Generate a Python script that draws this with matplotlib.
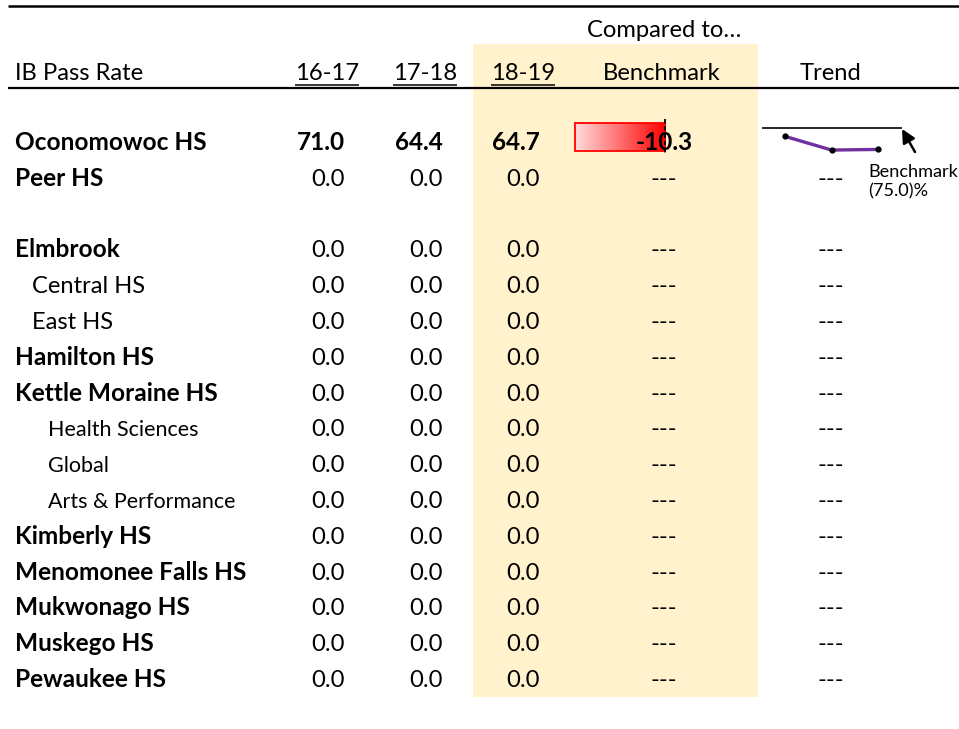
import matplotlib
matplotlib.use("Agg")
import matplotlib.pyplot as plt
import numpy as np
from matplotlib.patches import Rectangle
from matplotlib.colors import LinearSegmentedColormap

# ---------------- data ----------------
title = "IB Pass Rate"
years = ["16-17", "17-18", "18-19"]
schools = ["Oconomowoc HS", "Peer HS", "", "Elmbrook", "Central HS", "East HS",
           "Hamilton HS", "Kettle Moraine HS", "Health Sciences", "Global",
           "Arts & Performance", "Kimberly HS", "Menomonee Falls HS",
           "Mukwonago HS", "Muskego HS", "Pewaukee HS"]
levels = [0, 0, None, 0, 1, 1, 0, 0, 2, 2, 2, 0, 0, 0, 0, 0]
v1617 = [71.0, 0.0, None, 0.0, 0.0, 0.0, 0.0, 0.0, 0.0, 0.0, 0.0, 0.0, 0.0, 0.0, 0.0, 0.0]
v1718 = [64.4, 0.0, None, 0.0, 0.0, 0.0, 0.0, 0.0, 0.0, 0.0, 0.0, 0.0, 0.0, 0.0, 0.0, 0.0]
v1819 = [64.7, 0.0, None, 0.0, 0.0, 0.0, 0.0, 0.0, 0.0, 0.0, 0.0, 0.0, 0.0, 0.0, 0.0, 0.0]
benchmark = 75.0
highlight_row = 0

# ---------------- figure ----------------
W, H = 959, 729
FONT = "Lato"
fig = plt.figure(figsize=(W / 100, H / 100), dpi=100)
ax = fig.add_axes([0, 0, 1, 1])
ax.axis("off")
ax.set_xlim(0, W)
ax.set_ylim(H, 0)
renderer = fig.canvas.get_renderer()


def width_px(s, size, weight="normal"):
    t = ax.text(0, 0, s, fontsize=size, fontweight=weight, family=FONT)
    w = t.get_window_extent(renderer).width
    t.remove()
    return w


fs_reg = 10 * 128 / width_px("IB Pass Rate", 10)
fs_bold = 10 * 203 / width_px("Kettle Moraine HS", 10, "bold")
fs_small = 10 * 150 / width_px("Health Sciences", 10)
fs_tiny = 10 * 90 / width_px("Benchmark", 10)

# highlighted column
ax.add_patch(Rectangle((473, 44), 285, 653, facecolor="#FFF2CC", edgecolor="none", zorder=0))

# rules
ax.plot([8, W], [6, 6], color="black", lw=1.8, solid_capstyle="butt")
ax.plot([8, W], [88, 88], color="black", lw=1.6, solid_capstyle="butt")

# headers
ax.text(664, 37, "Compared to…", ha="center", va="baseline", fontsize=fs_reg, family=FONT)
ax.text(15, 80, title, ha="left", va="baseline", fontsize=fs_reg, family=FONT)
col_centers = [327, 425, 523]
for yr, cx in zip(years, col_centers):
    t = ax.text(cx, 80, yr, ha="center", va="baseline", fontsize=fs_reg, family=FONT)
    w = t.get_window_extent(renderer).width
    ax.plot([cx - w / 2, cx + w / 2], [85, 85], color="black", lw=1.1, solid_capstyle="butt")
ax.text(662, 80, "Benchmark", ha="center", va="baseline", fontsize=fs_reg, family=FONT)
ax.text(830, 80, "Trend", ha="center", va="baseline", fontsize=fs_reg, family=FONT)

# rows
col_right = [345, 443, 540]
bench_x = 664
trend_x = 831
for i, name in enumerate(schools):
    base = 150 + 35.8 * i
    lev = levels[i]
    if lev is None:
        continue
    if lev == 0:
        ax.text(15, base, name, ha="left", va="baseline", fontsize=fs_bold,
                fontweight="bold", family=FONT)
    elif lev == 1:
        ax.text(32, base, name, ha="left", va="baseline", fontsize=fs_reg, family=FONT)
    else:
        ax.text(48, base, name, ha="left", va="baseline", fontsize=fs_small, family=FONT)
    bold = (i == highlight_row)
    for vals, xr in zip([v1617, v1718, v1819], col_right):
        ax.text(xr, base, f"{vals[i]:.1f}", ha="right", va="baseline",
                fontsize=fs_bold if bold else fs_reg,
                fontweight="bold" if bold else "normal", family=FONT)
    if v1819[i] > 0:
        diff = v1819[i] - benchmark
        zero_x = 665
        scale = 8.74
        yc = base - 13
        bars = ax.barh([yc], [diff * scale], left=zero_x, height=28,
                       facecolor="none", edgecolor="#FF0000", lw=1.3, zorder=3)
        b = bars[0]
        cmap = LinearSegmentedColormap.from_list("rg", ["#FFDCDC", "#FF0000"])
        grad = np.linspace(0, 1, 256).reshape(1, -1)
        x0, x1 = zero_x + diff * scale, zero_x
        im = ax.imshow(grad, cmap=cmap, extent=(x0, x1, yc + 14, yc - 14),
                       aspect="auto", zorder=2, interpolation="bilinear")
        im.set_clip_path(b)
        ax.plot([zero_x, zero_x], [yc - 18, yc + 17], color="black", lw=1.3,
                ls=(0, (2.5, 1.5)), zorder=4)
        ax.text(bench_x, base, f"{diff:.1f}", ha="center", va="baseline",
                fontsize=fs_bold, fontweight="bold", family=FONT, zorder=5)
        # sparkline
        sax = fig.add_axes([762 / W, 1 - 160 / H, 140 / W, 40 / H])
        sax.axis("off")
        sax.set_xlim(-0.495, 2.516)
        sax.set_ylim(59.6, 78.9)
        trend = [v1617[i], v1718[i], v1819[i]]
        sax.axhline(benchmark, color="black", lw=1.2)
        sax.plot(range(len(trend)), trend, color="#7030A0", lw=2.4, marker="o",
                 mfc="black", mec="black", ms=3.5)
        ax.annotate("", xy=(902, 129), xytext=(915, 152),
                    arrowprops=dict(arrowstyle="-|>", color="black", lw=1.8,
                                    mutation_scale=20, shrinkA=0, shrinkB=0))
        ax.text(868, 177, "Benchmark", ha="left", va="baseline", fontsize=fs_tiny, family=FONT)
        ax.text(868, 196, f"({benchmark:.1f})%", ha="left", va="baseline",
                fontsize=fs_tiny, family=FONT)
    else:
        ax.text(bench_x, base, "---", ha="center", va="baseline", fontsize=fs_reg, family=FONT)
        ax.text(trend_x, base, "---", ha="center", va="baseline", fontsize=fs_reg, family=FONT)

ax.set_xlim(0, W)
ax.set_ylim(H, 0)
fig.savefig("out.png", dpi=100)
